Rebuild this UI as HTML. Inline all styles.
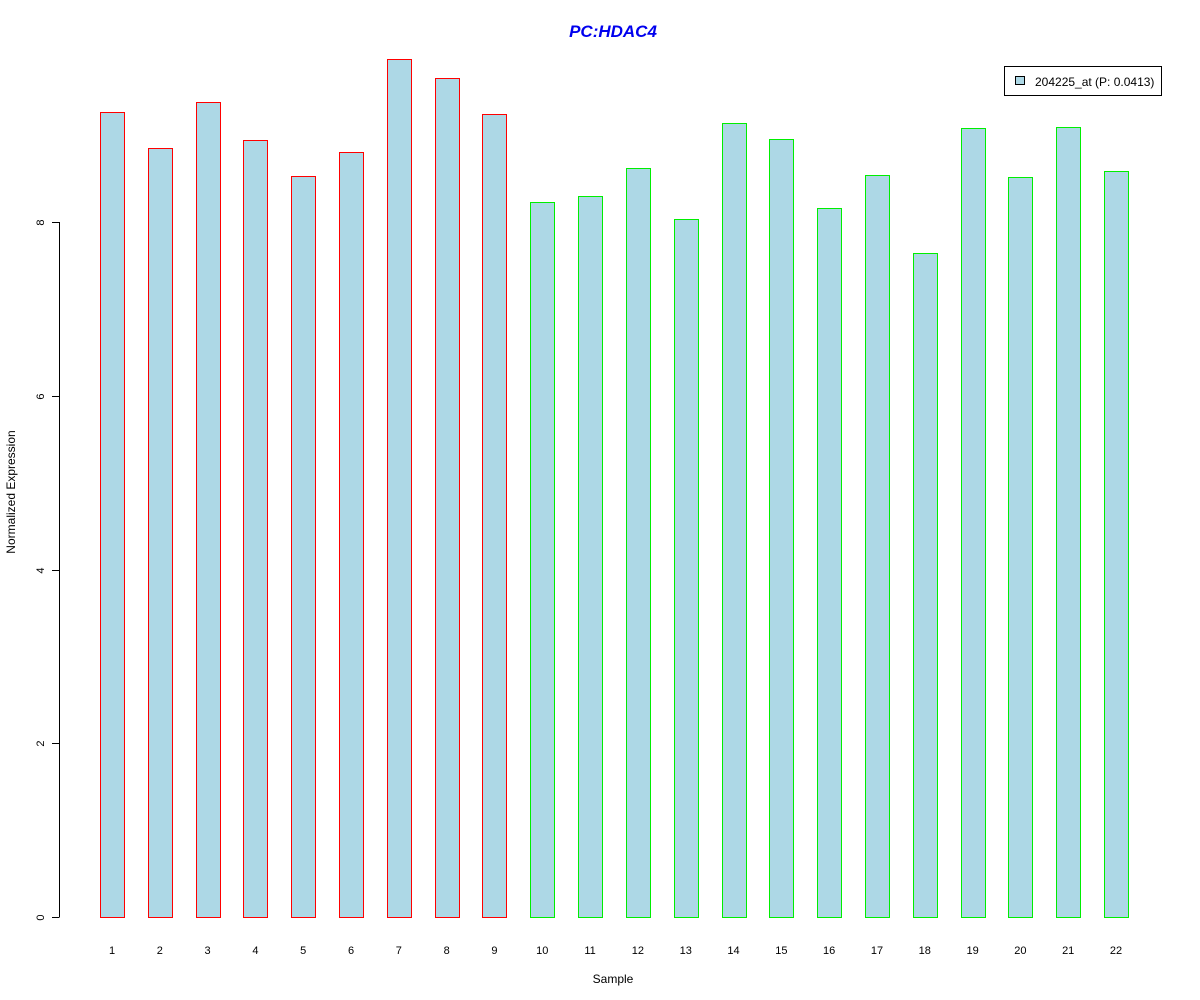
<!DOCTYPE html>
<html><head><meta charset="utf-8"><style>
body{margin:0;background:#fff}
svg{display:block;font-family:"Liberation Sans",Arial,sans-serif}
</style></head><body>
<svg id="chart" width="1200" height="1000" viewBox="0 0 1200 1000" xmlns="http://www.w3.org/2000/svg">
<rect width="1200" height="1000" fill="#fff"/>
<text x="613" y="37" text-anchor="middle" font-size="17" font-weight="bold" font-style="italic" fill="#0000ee">PC:HDAC4</text>
<text x="613" y="983" text-anchor="middle" font-size="12">Sample</text>
<text transform="translate(15,492) rotate(-90)" text-anchor="middle" font-size="12">Normalized Expression</text>
<g id="yaxis"></g>
<g id="bars" shape-rendering="crispEdges"></g>
<g id="xlabels"></g>
<g>
<rect x="1004.5" y="66.5" width="157" height="29" fill="#fff" stroke="#000"/>
<rect x="1015.5" y="76.5" width="9" height="8" fill="#add8e6" stroke="#000"/>
<text x="1035" y="86" font-size="12">204225_at (P: 0.0413)</text>
</g>
</svg>
<script>
const categories=["1","2","3","4","5","6","7","8","9","10","11","12","13","14","15","16","17","18","19","20","21","22"];
const values=[9.27,8.85,9.38,8.94,8.53,8.81,9.88,9.66,9.24,8.23,8.30,8.62,8.03,9.14,8.96,8.16,8.54,7.64,9.08,8.52,9.09,8.59];
const groups=["red","red","red","red","red","red","red","red","red","green","green","green","green","green","green","green","green","green","green","green","green","green"];
const yTicks=[0,2,4,6,8];
const NS="http://www.w3.org/2000/svg";
const y0=917,pxPer=86.875,x0=112,step=47.81,bw=24;
const yScale=v=>y0-v*pxPer;
const xScale=i=>x0+i*step;
function mk(t,a,p){const e=document.createElementNS(NS,t);for(const k in a)e.setAttribute(k,a[k]);p.appendChild(e);return e;}
const ya=document.getElementById('yaxis');
const l=mk('line',{x1:59.5,x2:59.5,y1:yScale(8),y2:yScale(0),stroke:'#000'},ya);


yTicks.forEach(t=>{
 const y=Math.round(yScale(t))+0.5;
 const tk=mk('line',{x1:52,x2:59.5,y1:y,y2:y,stroke:'#000'},ya);
 
 
 const tx=mk('text',{transform:`translate(44,${y}) rotate(-90)`,'text-anchor':'middle','font-size':11},ya);
 tx.textContent=t;
 
 
});
const bg=document.getElementById('bars'),xl=document.getElementById('xlabels');
const colors={red:'#ff0000',green:'#00ee00'};
values.forEach((v,i)=>{
 const cx=xScale(i);
 const bx=Math.round(cx-bw/2), by=Math.round(yScale(v)), bh=y0-by+1;
 const o=mk('rect',{x:bx,y:by,width:bw+1,height:bh,fill:colors[groups[i]]},bg);
 
 
 const r=mk('rect',{x:bx+1,y:by+1,width:bw-1,height:bh-2,fill:'#add8e6'},bg);
 
 
 const t=mk('text',{x:cx,y:954,'text-anchor':'middle','font-size':11},xl);
 t.textContent=categories[i];
 
 
});
</script>
</body></html>
